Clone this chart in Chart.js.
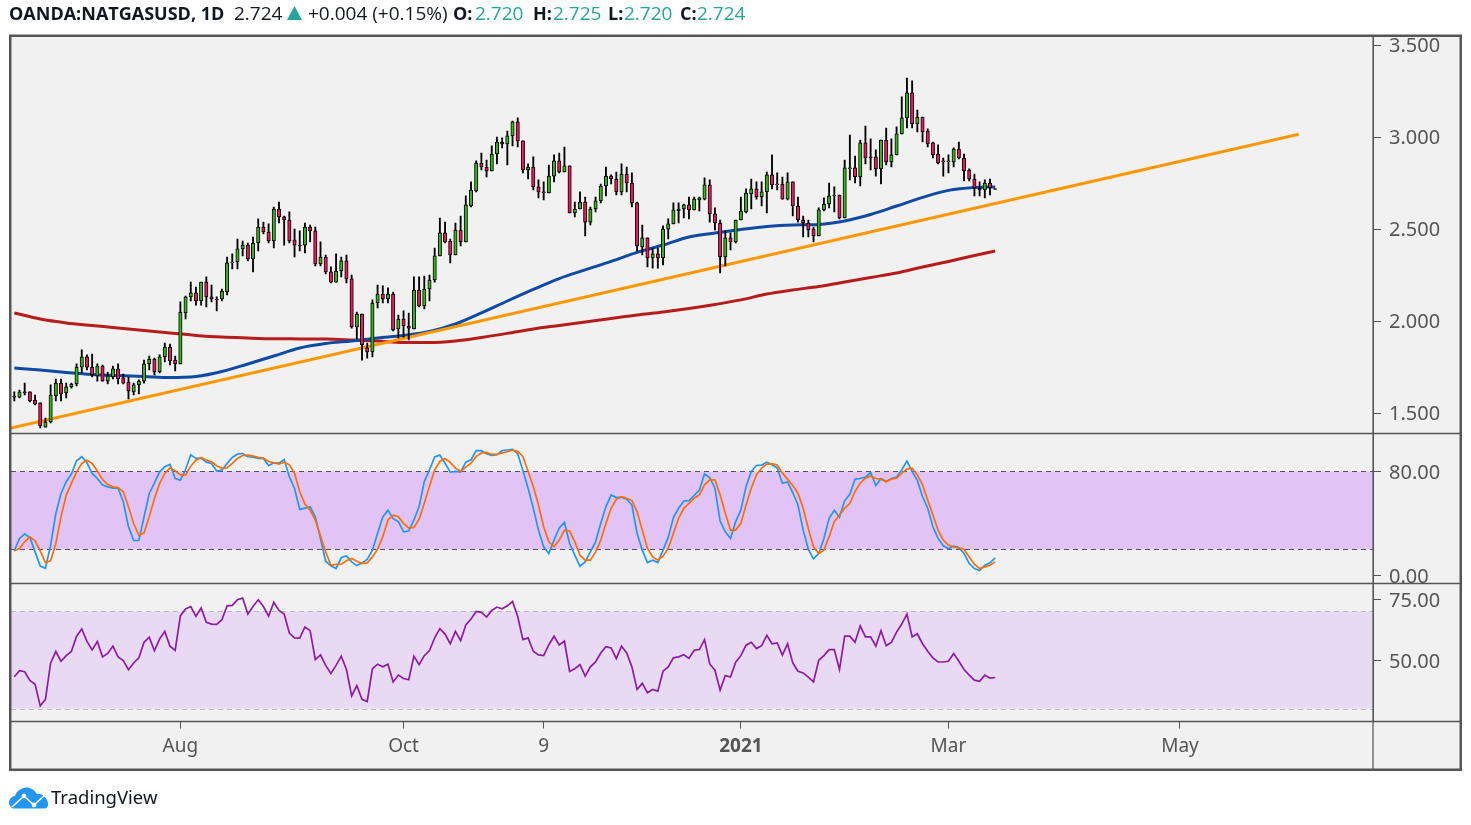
<!DOCTYPE html>
<html><head><meta charset="utf-8">
<style>
html,body{margin:0;padding:0;background:#fff;width:1471px;height:825px;overflow:hidden}
canvas{position:absolute;left:0;top:0}
.t{position:absolute;top:0;font:19px/26px "Open Sans",sans-serif;color:#131722;white-space:nowrap}
.b{font-weight:700;font-size:18px}.v{color:#26a69a}
</style>
<script src="https://cdn.jsdelivr.net/npm/chart.js@4"></script>
</head><body>
<canvas id="c" width="1471" height="825"></canvas>
<div class="t b" style="left:9px">OANDA:NATGASUSD, 1D</div>
<div class="t" style="left:234px">2.724</div>
<svg style="position:absolute;left:286px;top:5px" width="17" height="16"><path d="M8.5 1 L16 15 L1 15Z" fill="#26a69a"/></svg>
<div class="t" style="left:308px">+0.004 (+0.15%)</div>
<div class="t b" style="left:453px">O:</div><div class="t v" style="left:475px">2.720</div>
<div class="t b" style="left:533px">H:</div><div class="t v" style="left:553px">2.725</div>
<div class="t b" style="left:608px">L:</div><div class="t v" style="left:624px">2.720</div>
<div class="t b" style="left:680px">C:</div><div class="t v" style="left:697px">2.724</div>
<svg style="position:absolute;left:9px;top:786px" width="40" height="23" viewBox="0 0 40 23"><path d="M4 22.5 C-2 20 -1 11 6 10 C8 3 17 -1 23 3 C26 5 27 7 28 8 C32 7 38 11 39 17 C39.5 20 38 22.5 36 22.5Z" fill="#2196f3"/><path d="M3 21 L15 10 L25 19 L36 9" fill="none" stroke="#fff" stroke-width="1.6"/><circle cx="15" cy="10" r="2.4" fill="#fff"/><circle cx="25" cy="19" r="2.4" fill="#fff"/></svg>
<div class="t" style="left:51px;top:784px;font-family:'Noto Sans',sans-serif;font-size:18.5px">TradingView</div>
<script>
const opens=[
1.592,1.592,1.620,1.620,1.576,1.560,1.429,1.457,1.598,1.668,
1.614,1.647,1.663,1.755,1.810,1.755,1.707,1.761,1.679,1.701,
1.745,1.696,1.674,1.620,1.658,1.679,1.772,1.799,1.728,1.810,
1.864,1.793,1.772,2.049,2.136,2.158,2.114,2.217,2.136,2.125,
2.125,2.163,2.321,2.326,2.397,2.418,2.342,2.429,2.516,2.489,
2.440,2.614,2.571,2.554,2.446,2.418,2.418,2.516,2.495,2.315,
2.353,2.272,2.217,2.277,2.332,2.234,1.973,2.043,1.859,1.837,
2.103,2.152,2.125,2.152,1.962,2.016,1.978,1.962,2.174,2.087,
2.179,2.228,2.359,2.484,2.440,2.364,2.500,2.435,2.630,2.712,
2.864,2.842,2.821,2.913,2.978,2.967,3.011,3.087,2.984,2.826,
2.842,2.734,2.707,2.701,2.793,2.875,2.815,2.848,2.592,2.614,
2.652,2.543,2.614,2.658,2.739,2.793,2.777,2.707,2.804,2.755,
2.647,2.408,2.457,2.348,2.370,2.348,2.505,2.533,2.603,2.614,
2.636,2.609,2.663,2.668,2.745,2.587,2.538,2.353,2.457,2.435,
2.554,2.598,2.696,2.723,2.679,2.707,2.799,2.750,2.750,2.668,
2.761,2.630,2.554,2.538,2.505,2.467,2.609,2.641,2.685,2.690,
2.565,2.832,2.837,2.788,2.973,2.897,2.897,2.832,2.989,2.870,
2.908,3.022,3.109,3.245,3.076,3.114,3.038,2.973,2.913,2.875,
2.870,2.870,2.940,2.891,2.826,2.777,2.728,2.717,2.755,2.720];
const closes=[
1.598,1.620,1.614,1.571,1.554,1.435,1.457,1.603,1.668,1.609,
1.647,1.663,1.755,1.810,1.755,1.712,1.761,1.679,1.707,1.745,
1.690,1.668,1.625,1.658,1.679,1.772,1.799,1.728,1.810,1.864,
1.788,1.772,2.054,2.136,2.158,2.114,2.217,2.136,2.125,2.120,
2.168,2.321,2.326,2.397,2.418,2.342,2.429,2.516,2.489,2.440,
2.614,2.571,2.554,2.440,2.418,2.413,2.516,2.495,2.315,2.353,
2.272,2.217,2.277,2.332,2.234,1.973,2.043,1.875,1.837,2.103,
2.152,2.125,2.152,1.957,2.016,1.978,1.967,2.174,2.087,2.179,
2.228,2.359,2.484,2.435,2.364,2.500,2.435,2.636,2.717,2.864,
2.842,2.821,2.913,2.978,2.967,3.011,3.087,2.984,2.826,2.842,
2.734,2.707,2.701,2.793,2.875,2.815,2.848,2.592,2.614,2.652,
2.543,2.614,2.658,2.739,2.793,2.777,2.707,2.804,2.755,2.647,
2.413,2.457,2.348,2.370,2.348,2.505,2.533,2.609,2.614,2.636,
2.609,2.668,2.674,2.745,2.587,2.538,2.353,2.457,2.435,2.554,
2.603,2.701,2.723,2.679,2.707,2.799,2.745,2.745,2.668,2.761,
2.630,2.554,2.538,2.500,2.467,2.609,2.641,2.685,2.690,2.565,
2.837,2.837,2.788,2.973,2.891,2.891,2.832,2.989,2.870,2.908,
3.022,3.109,3.245,3.076,3.114,3.033,2.967,2.908,2.864,2.870,
2.875,2.940,2.891,2.821,2.777,2.728,2.717,2.755,2.728,2.724];
const highs=[
1.620,1.630,1.668,1.620,1.603,1.560,1.478,1.658,1.690,1.690,
1.668,1.668,1.772,1.848,1.821,1.826,1.772,1.766,1.728,1.761,
1.772,1.717,1.701,1.668,1.685,1.793,1.815,1.804,1.821,1.886,
1.880,1.815,2.109,2.141,2.217,2.190,2.217,2.245,2.201,2.136,
2.179,2.353,2.370,2.451,2.440,2.429,2.462,2.560,2.543,2.533,
2.625,2.652,2.576,2.598,2.505,2.495,2.538,2.527,2.516,2.435,
2.364,2.299,2.370,2.353,2.364,2.255,2.054,2.043,1.886,2.120,
2.201,2.196,2.185,2.163,2.038,2.060,2.049,2.245,2.245,2.250,
2.255,2.402,2.565,2.543,2.451,2.538,2.576,2.685,2.761,2.875,
2.918,2.880,2.957,3.005,3.000,3.038,3.092,3.109,2.984,2.859,
2.897,2.772,2.761,2.853,2.908,2.918,2.951,2.848,2.652,2.707,
2.679,2.625,2.679,2.750,2.842,2.799,2.815,2.859,2.842,2.810,
2.652,2.527,2.457,2.402,2.402,2.522,2.560,2.647,2.647,2.641,
2.679,2.679,2.679,2.783,2.772,2.620,2.554,2.495,2.484,2.554,
2.679,2.723,2.777,2.761,2.761,2.815,2.908,2.810,2.788,2.810,
2.761,2.679,2.576,2.554,2.516,2.620,2.674,2.755,2.734,2.690,
2.880,3.016,2.902,2.989,3.065,2.995,2.935,2.989,3.054,2.995,
3.060,3.223,3.326,3.310,3.152,3.114,3.049,2.978,2.962,2.891,
2.908,2.946,2.978,2.913,2.832,2.804,2.761,2.772,2.777,2.725];
const lows=[
1.571,1.587,1.603,1.565,1.549,1.424,1.429,1.451,1.571,1.571,
1.587,1.641,1.652,1.723,1.739,1.701,1.679,1.679,1.663,1.690,
1.663,1.663,1.582,1.603,1.609,1.668,1.739,1.712,1.723,1.783,
1.766,1.734,1.772,2.016,2.114,2.092,2.092,2.082,2.109,2.060,
2.114,2.147,2.288,2.288,2.359,2.332,2.272,2.386,2.478,2.429,
2.402,2.538,2.418,2.429,2.353,2.386,2.375,2.435,2.304,2.304,
2.261,2.212,2.217,2.245,2.212,1.967,1.908,1.793,1.804,1.810,
2.076,2.103,2.103,1.951,1.913,1.918,1.902,1.962,2.082,2.071,
2.114,2.217,2.359,2.429,2.321,2.364,2.413,2.435,2.625,2.707,
2.826,2.788,2.821,2.859,2.946,2.853,2.957,2.951,2.810,2.777,
2.717,2.674,2.663,2.701,2.761,2.810,2.815,2.592,2.571,2.614,
2.467,2.527,2.598,2.647,2.685,2.750,2.690,2.690,2.707,2.625,
2.386,2.364,2.299,2.293,2.293,2.310,2.451,2.533,2.538,2.565,
2.560,2.609,2.603,2.663,2.543,2.500,2.266,2.304,2.391,2.429,
2.554,2.592,2.614,2.668,2.630,2.592,2.723,2.717,2.668,2.663,
2.576,2.543,2.462,2.462,2.435,2.467,2.603,2.620,2.598,2.560,
2.565,2.772,2.755,2.739,2.859,2.826,2.793,2.750,2.853,2.842,
2.908,3.022,3.054,3.054,3.033,2.978,2.951,2.891,2.859,2.793,
2.810,2.842,2.886,2.766,2.766,2.685,2.685,2.674,2.690,2.720];
const maBars=[0,5,10,15,20,25,30,35,40,45,50,55,60,65,70,75,80,85,90,95,100,105,110,115,120,125,130,135,140,145,150,155,160,165,170,175,180,185,189];
const maBlue=[1.750,1.739,1.726,1.715,1.709,1.704,1.698,1.704,1.731,1.772,1.815,1.859,1.883,1.897,1.913,1.927,1.948,1.989,2.049,2.114,2.177,2.236,2.283,2.329,2.378,2.418,2.462,2.484,2.503,2.519,2.527,2.530,2.549,2.584,2.630,2.677,2.715,2.731,2.734];
const maRed=[2.049,2.016,1.995,1.981,1.967,1.954,1.940,1.927,1.918,1.913,1.909,1.908,1.907,1.902,1.896,1.889,1.888,1.897,1.916,1.938,1.962,1.981,2.000,2.019,2.038,2.054,2.073,2.095,2.120,2.152,2.174,2.193,2.217,2.242,2.266,2.299,2.329,2.361,2.386];
const trendBars=[-0.636,247.5];
const trendVals=[1.424,3.020];
const stochK=[19.0,28.5,32.1,29.2,18.2,7.2,5.6,23.3,47.7,63.1,72.1,78.0,88.2,91.3,86.7,78.5,74.6,69.5,68.2,67.2,67.2,56.7,37.4,26.9,26.9,45.1,63.1,71.3,79.7,83.6,85.4,74.6,73.3,81.5,92.8,90,90.3,87.2,86.2,80.3,81,86.2,90.8,93.3,93.8,91.3,91,90,90,84.4,86.7,86.4,89.2,75.9,66.9,50.8,51.8,52.8,45.1,28.5,11,7.4,5.4,
13.8,15.1,10.5,7.6,9.7,12.3,19.5,32.4,45,50.1,43.7,41.4,33.6,34.2,42.7,53,72.3,81.3,91.1,92.6,86.4,79.5,80,79.5,87.2,89,96,96,93.7,92.4,92.9,96,96.5,97,93.7,80.8,67.1,51.7,34.9,22.1,16.9,27.2,36.5,40.9,24.6,15.6,7.1,10.5,18.2,25.9,40.1,53,62,59.9,60.2,58.6,54.2,32.4,19.5,10,11.8,10,19.5,29.3,44.5,51.7,57.3,57.6,61.5,65.8,78.2,75.4,67.1,41.9,33.6,28.5,41.4,50.4,68.4,80,84.6,84.9,87.2,85.2,82.6,71,72,63.8,54.2,34.9,20,12.8,16.9,28.5,44,50.1,44.7,57.6,62.5,74.1,74.6,75.6,79.2,69.2,74.6,72.3,74.6,75.6,81.3,88,80,73.1,60.7,51.7,37.5,28.5,22.8,20.8,22.6,21.6,16.9,9.2,5.3,3.8,7.9,9.7,13.6];
const stochD=[19,20.8,25.9,29.7,26.7,19,10,11.3,24.6,45.1,61.8,70.8,79.7,86.2,88.7,86.2,80.3,73.8,70,68.2,67.7,64.4,52.8,40,30.8,32.8,45.1,59.2,70.8,78.5,82.8,80.5,77.4,77.4,84.1,88.7,90.8,88.7,87.4,84.4,82.6,82.8,86.2,90,92.3,92.6,91.8,90.8,90.3,87.7,86.7,85.6,87.2,85.1,78.5,64.4,54.9,50.3,42.6,30.3,18.2,7.9,8.5,
8.7,11.3,13.1,11,9.2,9.7,14.3,20.3,29.8,42.7,46.3,45.2,40.1,36.5,37,43.2,55.5,68.4,81.3,87.7,90,87,82.6,80,83.4,86.4,91.6,94.2,94.7,93.1,93.1,94.2,95.2,96.5,95.5,91.6,80,68.4,54.2,37.5,25.9,22.1,27.2,34.9,34.2,25.9,15.6,11.8,11.8,18.2,27.2,40.1,51.7,58.6,60.7,59.4,57.6,49.1,34.9,20.8,14.3,11.8,14.9,20.8,32.4,44,51.7,55.5,59.4,62,69.7,73.6,73.6,62,47.8,34.9,34.9,40.1,54.2,67.1,77.4,82.6,85.7,85.9,84.9,78.7,74.1,69.2,63.3,51.7,36.2,22.1,16.9,19.5,29.8,41.4,46.5,51.7,55.5,64.6,71,74.9,76.6,74.6,74.1,72,74.1,74.9,78.7,81.8,82.6,77.4,69.7,58.1,46.5,34.9,27.2,23.4,22.1,21.3,20,14.3,8.7,5.3,6.6,7.9,10.5];
const rsi=[43.1,45.6,45.2,41.6,40,31.1,33.8,48.8,53.5,49.5,51.8,53.5,59.8,62.8,57.7,54.2,57.6,51.3,52.7,55.7,51.3,49.8,46,48.8,50.9,57.3,59.4,53.8,58.7,61.8,55.7,54,68.2,71,72,68,71.4,65.5,64.8,64.7,66.6,72.3,72.5,74.8,75.5,68.9,72,74.8,72,68,73.8,70.4,68.9,61.1,59.1,59,63.6,62.1,50.2,52.1,47.8,44.5,47.8,51.6,46.1,
35.2,39.5,33.8,32.9,46.4,48.3,47.2,48.3,41,43.8,42.4,41.9,51.6,48.1,51.8,53.9,59.1,62.9,60.7,56.7,61.8,58,64.4,66.9,70,69.6,67.7,70.4,71.8,71.1,72.3,74.1,67.9,58.4,59.1,53.6,52.1,51.8,56.3,59.8,56.2,57.8,45.3,46.4,48.1,43.4,47.2,49.2,52.9,55.5,55,50.6,55.7,52.9,47.2,37.9,40.4,36.5,37.9,37.2,45.4,47.2,50.9,51.3,52.2,50.7,54,54.3,58.4,48.4,45.8,37.6,43.6,43,49.1,51.8,56.1,57.3,54.7,55.9,60.2,56.7,57,52,56.7,48.8,45.4,44.7,43,41,49.9,51.8,54.3,54.3,46.1,59.8,59.8,57.3,64.1,59.5,59.5,55.7,62.1,55.9,57.3,61.5,64.8,68.9,59.5,60.8,56.7,53.6,50.9,49.2,49.2,49.5,52.7,49.5,46.1,43.8,41.7,41.2,43.8,42.6,42.8];
const priceTicks=[1.5,2,2.5,3,3.5];
const stochTicks=[0,80];
const rsiTicks=[50,75];
const stochBand=[80,20];
const rsiBand=[70,30];
const timeBars=[32,75,102,140,180,224.6];
const timeLabels=['Aug','Oct','9','2021','Mar','May'];

const INK='#555';
const AXFAMILY='"Noto Sans",sans-serif';
const xy=(xs,ys)=>ys.map((y,i)=>({x:xs[i],y}));
const seq=ys=>ys.map((y,i)=>({x:i,y}));
const UP='#35b814',DOWN='#f2155f';

const line=(label,data,yAxisID,color,width,order,extra)=>Object.assign({type:'line',label,data,yAxisID,borderColor:color,borderWidth:width,pointRadius:0,order,fill:false},extra||{});

const yAxis=(ticksArr,fmt,min,max,weight,nudge)=>({
  position:'right',stack:'panes',stackWeight:weight,min,max,offset:false,
  afterBuildTicks:s=>{s.ticks=ticksArr.map(value=>({value}));},
  afterFit:s=>{s.width=98;},
  ticks:{color:INK,font:{family:AXFAMILY,size:20},padding:8,autoSkip:false,maxRotation:0,labelOffset:nudge,callback:v=>fmt(v)},
  grid:{drawOnChartArea:false,drawTicks:true,tickLength:8,color:INK,lineWidth:1},
  border:{display:true,color:INK,width:1}
});

const framePlugin={
  id:'frame',
  beforeDraw(chart){
    const g=chart.ctx,a=chart.chartArea;
    g.save();g.fillStyle='#f1f1f1';g.fillRect(10,35,1451,735);g.restore();
    const band=(s,vals,fill,dash)=>{
      const t=s.getPixelForValue(vals[0]),b=s.getPixelForValue(vals[1]);
      g.save();g.fillStyle=fill;g.fillRect(a.left,t,a.right-a.left,b-t);
      g.strokeStyle=dash;g.lineWidth=1;g.setLineDash([5,4]);
      [t,b].forEach(y=>{g.beginPath();g.moveTo(a.left,Math.round(y)+.5);g.lineTo(a.right,Math.round(y)+.5);g.stroke();});
      g.restore();
    };
    band(chart.scales.yStoch,stochBand,'#e1c4f5','#5a4a66');
    band(chart.scales.yRsi,rsiBand,'#e9daf4','#bdb6c2');
  },
  afterDraw(chart){
    const g=chart.ctx,a=chart.chartArea,s=chart.scales;
    g.save();g.strokeStyle=INK;g.lineWidth=1.5;
    [s.yPrice.bottom,s.yStoch.bottom,s.yRsi.bottom].forEach(y=>{g.beginPath();g.moveTo(10,y);g.lineTo(1461,y);g.stroke();});
    g.lineWidth=1.2;g.beginPath();g.moveTo(a.right,36);g.lineTo(a.right,770);g.stroke();
    g.lineWidth=2.5;g.strokeRect(10.25,35.75,1450.5,734);
    g.restore();
  }
};

new Chart(document.getElementById('c'),{
  type:'bar',
  plugins:[framePlugin],
  data:{datasets:[
    {label:'Body',data:opens.map((o,i)=>({x:i,y:[o,closes[i]]})),yAxisID:'yPrice',order:0,grouped:false,barThickness:3.4,borderWidth:1,borderColor:'#000',borderSkipped:false,backgroundColor:opens.map((o,i)=>closes[i]>=o?UP:DOWN)},
    {label:'Wick',data:lows.map((l,i)=>({x:i,y:[l,highs[i]]})),yAxisID:'yPrice',order:1,grouped:false,barThickness:1.2,borderWidth:0,backgroundColor:'#000'},
    line('Trend',xy(trendBars,trendVals),'yPrice','#ff9800',3,2),
    line('MA 50',xy(maBars,maBlue),'yPrice','#0f4aa3',3,3,{cubicInterpolationMode:'monotone'}),
    line('MA 200',xy(maBars,maRed),'yPrice','#b71c1c',3,4,{cubicInterpolationMode:'monotone'}),
    line('%D',seq(stochD),'yStoch','#ff6d00',1.7,5),
    line('%K',seq(stochK),'yStoch','#2196f3',1.7,6),
    line('RSI',seq(rsi),'yRsi','#8e1ba3',1.7,7)
  ]},
  options:{
    responsive:false,animation:false,devicePixelRatio:1,
    layout:{padding:{left:11,top:36,right:0,bottom:55}},
    plugins:{legend:{display:false},tooltip:{enabled:false},title:{display:false}},
    scales:{
      x:{type:'linear',min:-0.636,max:261.8,offset:false,
        afterBuildTicks:s=>{s.ticks=timeBars.map(value=>({value}));},
        afterFit:s=>{s.height=48.5;},
        ticks:{color:INK,padding:7,autoSkip:false,maxRotation:0,
          font:c=>({family:AXFAMILY,size:19,weight:c.tick&&c.tick.value===140?'bold':'normal'}),
          callback:v=>timeLabels[timeBars.indexOf(v)]},
        grid:{drawOnChartArea:false,drawTicks:true,tickLength:7,color:INK,offset:false},
        border:{display:false}},
      yPrice:yAxis(priceTicks,v=>v.toFixed(3),1.394,3.554,397.5,0),
      yStoch:yAxis(stochTicks,v=>v.toFixed(2),-6.15,109.2,150,2),
      yRsi:yAxis(rsiTicks,v=>v.toFixed(2),24.7,81.5,138,2)
    }
  }
});
</script>
</body></html>
